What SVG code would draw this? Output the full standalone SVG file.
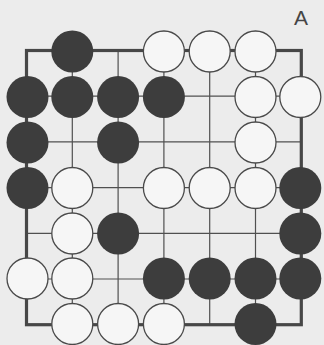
<svg xmlns="http://www.w3.org/2000/svg" width="324" height="345" viewBox="0 0 324 345">
<style>
.edge{stroke:#474747;stroke-width:3.2;fill:none;stroke-linecap:square}
.grid{stroke:#505050;stroke-width:1.2}
.b{fill:#3d3d3d}
.w{fill:#f6f6f6;stroke:#4a4a4a;stroke-width:1.3}
.lbl{font-family:"Liberation Sans",Arial,sans-serif;font-size:21px;fill:#454545}
</style>
<rect width="324" height="345" fill="#ececec"/>
<text class="lbl" x="301" y="25" text-anchor="middle">A</text>
<g id="connectors">
<g class="grid">
<line x1="26.5" y1="96.2" x2="301.3" y2="96.2"/>
<line x1="26.5" y1="141.9" x2="301.3" y2="141.9"/>
<line x1="26.5" y1="187.6" x2="301.3" y2="187.6"/>
<line x1="26.5" y1="233.3" x2="301.3" y2="233.3"/>
<line x1="26.5" y1="279" x2="301.3" y2="279"/>
<line x1="72.3" y1="50.5" x2="72.3" y2="324.7"/>
<line x1="118.1" y1="50.5" x2="118.1" y2="324.7"/>
<line x1="163.9" y1="50.5" x2="163.9" y2="324.7"/>
<line x1="209.7" y1="50.5" x2="209.7" y2="324.7"/>
<line x1="255.5" y1="50.5" x2="255.5" y2="324.7"/>
</g>
<rect class="edge" x="26.5" y="50.5" width="274.8" height="274.2"/>
</g>
<g id="stones">
<circle id="r0c1" class="b" cx="72.3" cy="51.5" r="21"/>
<circle id="r0c3" class="w" cx="163.9" cy="51.5" r="20.5"/>
<circle id="r0c4" class="w" cx="209.7" cy="51.5" r="20.5"/>
<circle id="r0c5" class="w" cx="255.5" cy="51.5" r="20.5"/>
<circle id="r1c0" class="b" cx="27.5" cy="97" r="21"/>
<circle id="r1c1" class="b" cx="72.3" cy="97" r="21"/>
<circle id="r1c2" class="b" cx="118.1" cy="97" r="21"/>
<circle id="r1c3" class="b" cx="163.9" cy="97" r="21"/>
<circle id="r1c5" class="w" cx="255.5" cy="97" r="20.5"/>
<circle id="r1c6" class="w" cx="300.3" cy="97" r="20.5"/>
<circle id="r2c0" class="b" cx="27.5" cy="142.5" r="21"/>
<circle id="r2c2" class="b" cx="118.1" cy="142.5" r="21"/>
<circle id="r2c5" class="w" cx="255.5" cy="142.5" r="20.5"/>
<circle id="r3c0" class="b" cx="27.5" cy="188" r="21"/>
<circle id="r3c1" class="w" cx="72.3" cy="188" r="20.5"/>
<circle id="r3c3" class="w" cx="163.9" cy="188" r="20.5"/>
<circle id="r3c4" class="w" cx="209.7" cy="188" r="20.5"/>
<circle id="r3c5" class="w" cx="255.5" cy="188" r="20.5"/>
<circle id="r3c6" class="b" cx="300.3" cy="188" r="21"/>
<circle id="r4c1" class="w" cx="72.3" cy="233.5" r="20.5"/>
<circle id="r4c2" class="b" cx="118.1" cy="233.5" r="21"/>
<circle id="r4c6" class="b" cx="300.3" cy="233.5" r="21"/>
<circle id="r5c0" class="w" cx="27.5" cy="278.5" r="20.5"/>
<circle id="r5c1" class="w" cx="72.3" cy="278.5" r="20.5"/>
<circle id="r5c3" class="b" cx="163.9" cy="278.5" r="21"/>
<circle id="r5c4" class="b" cx="209.7" cy="278.5" r="21"/>
<circle id="r5c5" class="b" cx="255.5" cy="278.5" r="21"/>
<circle id="r5c6" class="b" cx="300.3" cy="278.5" r="21"/>
<circle id="r6c1" class="w" cx="72.3" cy="324" r="20.5"/>
<circle id="r6c2" class="w" cx="118.1" cy="324" r="20.5"/>
<circle id="r6c3" class="w" cx="163.9" cy="324" r="20.5"/>
<circle id="r6c5" class="b" cx="255.5" cy="324" r="21"/>
</g>
</svg>
